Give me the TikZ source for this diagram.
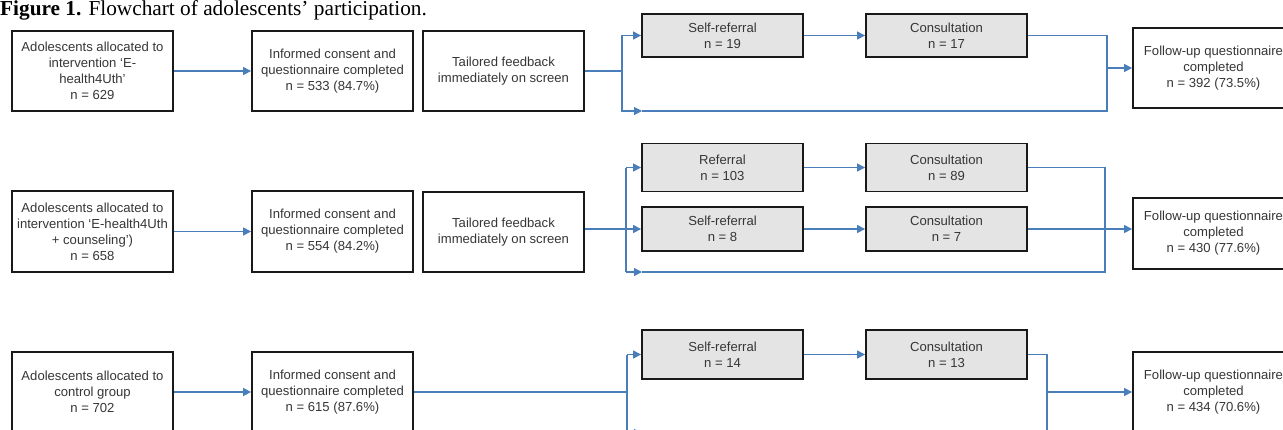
\documentclass[tikz,border=0pt]{standalone}
\usepackage{fontspec}
\setmainfont{Liberation Serif}
\newfontfamily\boxfont{Liberation Sans}
\usetikzlibrary{arrows.meta}
\definecolor{lineblue}{HTML}{4A7EBB}
\definecolor{boxgray}{HTML}{E4E4E4}
\definecolor{txtgray}{HTML}{363636}
\begin{document}
\begin{tikzpicture}[x=1pt,y=-1pt,
  box/.style={draw=black!90, line width=1.8pt, fill=white, minimum width=161pt,
    inner sep=1.5pt, align=center, text=txtgray,
    font=\boxfont\fontsize{13.1}{16}\selectfont},
  graybox/.style={box, fill=boxgray},
  conn/.style={draw=lineblue, line width=1.1pt},
  arr/.style={conn, -{Triangle[length=8pt,width=8pt]}, lineblue}]
\useasboundingbox (0,0) rectangle (1283,429);
\clip (0,0) rectangle (1283,429);
\fill[white] (0,0) rectangle (1283,429);

% title
\node[anchor=base west, inner sep=0, font=\fontsize{21.3}{25}\selectfont] (title) at (0,15)
  {\textbf{Figure 1.} Flowchart of adolescents’ participation.};

% ---------- row 1 ----------
\node[box, minimum height=80pt] (a1) at (92.5,71) {Adolescents allocated to\\intervention ‘E-\\health4Uth’\\n = 629};
\node[box, minimum height=80pt] (b1) at (332.5,71) {Informed consent and\\questionnaire completed\\n = 533 (84.7\%)};
\node[box, minimum height=80pt] (c1) at (503.5,71) {Tailored feedback\\immediately on screen};
\node[graybox, minimum height=43pt] (s1) at (722.5,35.5) {Self-referral\\n = 19};
\node[graybox, minimum height=43pt] (k1) at (946.5,35.5) {Consultation\\n = 17};
\node[box, minimum height=80pt] (f1) at (1213.5,68) {Follow-up questionnaire\\completed\\n = 392 (73.5\%)};

\coordinate (j1) at (622,71);
\coordinate (j1b) at (622,111);
\coordinate (e1) at (642,111);
\coordinate (m1) at (1107,111);
\coordinate (m1o) at (1107,68);
\draw[arr] (a1) -- (b1);
\draw[conn] (c1.east) -- (j1);
\draw[arr] (j1) |- (s1.west);
\draw[arr] (j1) -- (j1b) -- (e1);
\draw[conn] (e1) -- (m1) |- (k1.east);
\draw[arr] (s1) -- (k1);
\draw[arr] (m1o) -- (f1.west);

% ---------- row 2 ----------
\node[box, minimum height=81pt] (a2) at (92.5,231.5) {Adolescents allocated to\\intervention ‘E-health4Uth\\+ counseling’)\\n = 658};
\node[box, minimum height=81pt] (b2) at (332.5,231.5) {Informed consent and\\questionnaire completed\\n = 554 (84.2\%)};
\node[box, minimum height=80pt] (c2) at (503.5,232) {Tailored feedback\\immediately on screen};
\node[graybox, minimum height=48pt] (r2) at (722.5,167.5) {Referral\\n = 103};
\node[graybox, minimum height=44pt] (s2) at (722.5,229) {Self-referral\\n = 8};
\node[graybox, minimum height=48pt] (k2a) at (946.5,167.5) {Consultation\\n = 89};
\node[graybox, minimum height=44pt] (k2b) at (946.5,229) {Consultation\\n = 7};
\node[box, minimum height=71pt] (f2) at (1213.5,233.5) {Follow-up questionnaire\\completed\\n = 430 (77.6\%)};

\coordinate (j2t) at (626,167.5);
\coordinate (j2b) at (626,272);
\coordinate (e2) at (642,272);
\coordinate (m2) at (1105,272);
\draw[arr] (a2) -- (b2);
\draw[arr] (c2.east |- s2.west) -- (s2.west);
\draw[conn] (j2t) -- (j2b);
\draw[arr] (j2t) -- (r2.west);
\draw[arr] (j2b) -- (e2);
\draw[conn] (e2) -- (m2) |- (k2a.east);
\draw[arr] (r2) -- (k2a);
\draw[arr] (s2) -- (k2b);
\draw[arr] (k2b.east) -- (f2.west |- k2b.east);

% ---------- row 3 ----------
\node[box, minimum height=80pt] (a3) at (92.5,392) {Adolescents allocated to\\control group\\n = 702};
\node[box, minimum height=80pt] (b3) at (332.5,392) {Informed consent and\\questionnaire completed\\n = 615 (87.6\%)};
\node[graybox, minimum height=49pt] (s3) at (722.5,354.5) {Self-referral\\n = 14};
\node[graybox, minimum height=49pt] (k3) at (946.5,354.5) {Consultation\\n = 13};
\node[box, minimum height=80pt] (f3) at (1213.5,392) {Follow-up questionnaire\\completed\\n = 434 (70.6\%)};

\coordinate (j3) at (627,392);
\coordinate (j3t) at (627,354.5);
\coordinate (j3b) at (627,433);
\coordinate (e3) at (642,433);
\coordinate (m3b) at (1047,433);
\coordinate (m3o) at (1047,392);
\draw[arr] (a3) -- (b3);
\draw[conn] (b3.east) -- (j3);
\draw[conn] (j3t) -- (j3b);
\draw[arr] (j3t) -- (s3.west);
\draw[arr] (j3b) -- (e3);
\draw[conn] (e3) -- (m3b);
\draw[arr] (s3) -- (k3);
\draw[conn] (k3.east) -| (m3b);
\draw[arr] (m3o) -- (f3.west);
\end{tikzpicture}
\end{document}
